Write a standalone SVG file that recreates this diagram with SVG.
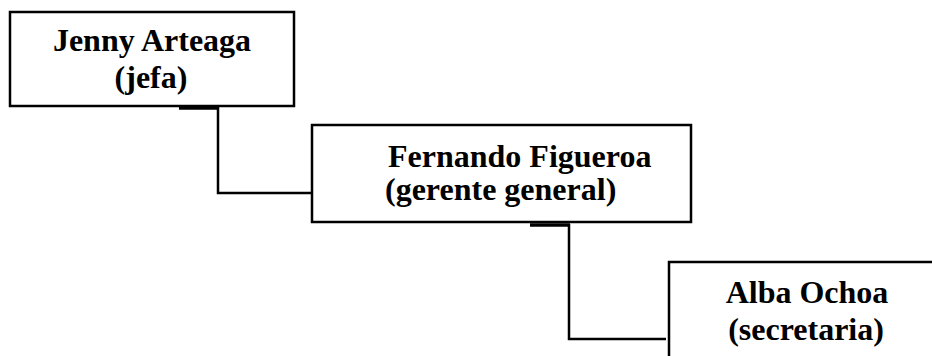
<svg xmlns="http://www.w3.org/2000/svg" width="932" height="356" viewBox="0 0 932 356">
<style>
.box{fill:#fff;stroke:#000;stroke-width:2.5}
.t{font-family:"Liberation Serif","Times New Roman",serif;font-weight:bold;font-size:32px;fill:#000}
.c{fill:none;stroke:#000;stroke-width:2.5}
.stub{fill:none;stroke:#000;stroke-width:3.5}
</style>
<rect width="932" height="356" fill="#fff"/>
<g id="connectors">
<path class="c" d="M218,107 V193 H315"/>
<path class="stub" d="M179,108 H219"/>
<path class="c" d="M569,224 V339 H666"/>
<path class="stub" d="M530,225 H570"/>
</g>
<g id="jenny">
<rect class="box" x="10" y="12" width="284" height="94"/>
<text class="t" x="152" y="51" text-anchor="middle">Jenny Arteaga</text>
<text class="t" x="151" y="88" text-anchor="middle">(jefa)</text>
</g>
<g id="fernando">
<rect class="box" x="312" y="125" width="379" height="97"/>
<text class="t" x="388" y="167">Fernando Figueroa</text>
<text class="t" x="385" y="200">(gerente general)</text>
</g>
<g id="alba">
<rect class="box" x="669" y="262" width="300" height="120"/>
<text class="t" x="807" y="303" text-anchor="middle">Alba Ochoa</text>
<text class="t" x="806" y="340" text-anchor="middle">(secretaria)</text>
</g>
</svg>
